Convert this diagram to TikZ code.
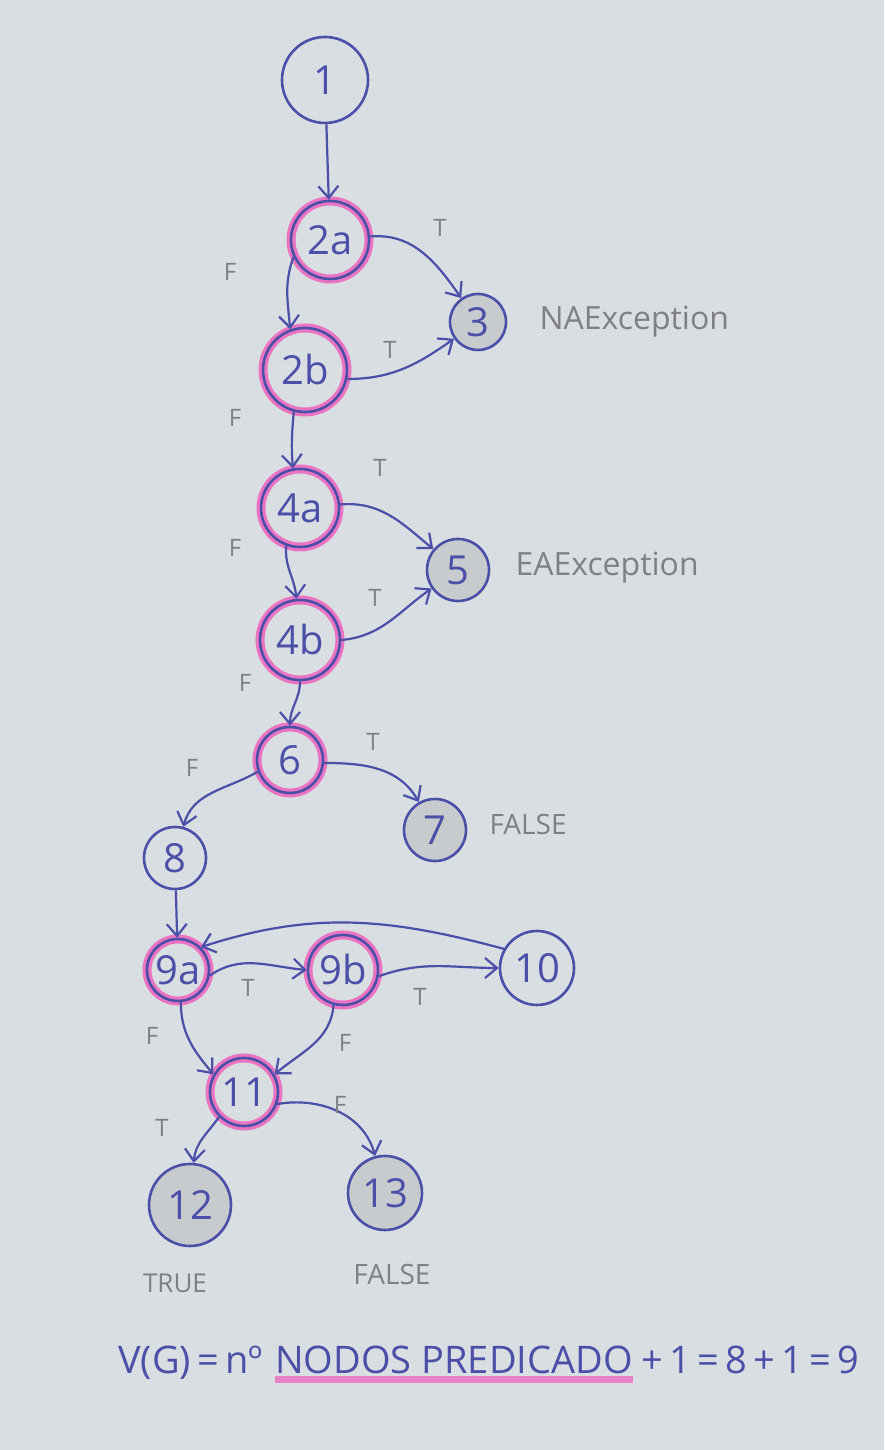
\documentclass[tikz,border=0pt]{standalone}
\usepackage{fontspec}
\setmainfont{Open Sans}
\usetikzlibrary{arrows.meta}
\definecolor{paper}{RGB}{217,222,227}
\definecolor{ink}{RGB}{74,80,168}
\definecolor{pencil}{RGB}{128,128,132}
\definecolor{hl}{RGB}{242,70,180}
\definecolor{shade}{RGB}{200,203,206}
\begin{document}
\begin{tikzpicture}[x=1pt,y=1pt,
  nd/.style={circle,draw=ink,line width=2.6pt,minimum size=#1,inner sep=0pt,text=ink,font=\fontsize{40}{42}\selectfont},
  pred/.style={preaction={draw=hl,line width=9pt,draw opacity=0.7}},
  term/.style={fill=shade},
  conn/.style={draw=ink,line width=2.2pt,-{Straight Barb[length=12pt,width=20pt]}},
  lbl/.style={text=pencil,font=\fontsize{24}{26}\selectfont},
  note/.style={text=pencil,font=\fontsize{32}{34}\selectfont},
  formula/.style={text=ink,inner sep=0pt,font=\fontsize{38}{40}\selectfont}]
\fill[paper] (0,0) rectangle (884,1450);
\useasboundingbox (0,0) rectangle (884,1450);

% nodes
\node[nd=86pt] (n1) at (325,1370) {1};
\node[nd=78pt,pred] (n2a) at (330,1210) {2a};
\node[nd=56pt,term] (n3) at (478,1128) {3};
\node[nd=84pt,pred] (n2b) at (305,1080) {2b};
\node[nd=78pt,pred] (n4a) at (300,942) {4a};
\node[nd=62pt,term] (n5) at (458,880) {5};
\node[nd=80pt,pred] (n4b) at (300,810) {4b};
\node[nd=66pt,pred] (n6) at (290,690) {6};
\node[nd=62pt,term] (n7) at (435,620) {7};
\node[nd=62pt] (n8) at (175,592) {8};
\node[nd=62pt,pred] (n9a) at (178,480) {9a};
\node[nd=70pt,pred] (n9b) at (343,480) {9b};
\node[nd=74pt] (n10) at (537,482) {10};
\node[nd=68pt,pred] (n11) at (244,358) {11};
\node[nd=82pt,term] (n12) at (190,245) {12};
\node[nd=74pt,term] (n13) at (385,257) {13};

% connectors
\draw[conn] (n1) -- (n2a);
\draw[conn] (n2a) to[out=5,in=125] (n3);
\draw[conn] (n2a.205) to[out=250,in=95] (n2b.110);
\draw[conn] (n2b.-12) to[out=0,in=215] (n3);
\draw[conn] (n2b.255) to[out=265,in=95] (n4a.100);
\draw[conn] (n4a.5) to[out=5,in=140] (n5);
\draw[conn] (n4a.250) to[out=265,in=95] (n4b.95);
\draw[conn] (n4b.0) to[out=5,in=215] (n5);
\draw[conn] (n4b.270) to[out=270,in=90] (n6.90);
\draw[conn] (n6.-5) to[out=0,in=120] (n7);
\draw[conn] (n6.200) to[out=210,in=75] (n8);
\draw[conn] (n8) -- (n9a);
\draw[conn] (n10.150) to[out=165,in=18] (n9a.45);
\draw[conn] (n9a.-10) to[out=35,in=175] (n9b.180);
\draw[conn] (n9b.-10) to[out=20,in=180] (n10.180);
\draw[conn] (n9a.275) to[out=270,in=130] (n11.150);
\draw[conn] (n9b.255) to[out=265,in=40] (n11.30);
\draw[conn] (n11.225) to[out=235,in=85] (n12);
\draw[conn] (n11.-20) to[out=10,in=105] (n13);

% T/F labels
\node[lbl] (t1) at (440,1222) {T};
\node[lbl] (f1) at (230,1178) {F};
\node[lbl] (t2) at (390,1100) {T};
\node[lbl] (f2) at (235,1032) {F};
\node[lbl] (t3) at (380,982) {T};
\node[lbl] (f3) at (235,902) {F};
\node[lbl] (t4) at (375,852) {T};
\node[lbl] (f4) at (245,767) {F};
\node[lbl] (t5) at (373,708) {T};
\node[lbl] (f5) at (192,682) {F};
\node[lbl] (t6) at (248,462) {T};
\node[lbl] (t7) at (420,453) {T};
\node[lbl] (f6) at (152,414) {F};
\node[lbl] (f7) at (345,407) {F};
\node[lbl] (t8) at (162,322) {T};
\node[lbl] (f8) at (340,345) {F};

% notes
\node[note,anchor=west] (na) at (536,1128) {NAException};
\node[note,anchor=west] (ea) at (512,882) {EAException};
\node[note,anchor=west,font=\fontsize{28}{30}\selectfont] (fa1) at (486,625) {FALSE};
\node[note,font=\fontsize{26}{28}\selectfont] (tr) at (175,167) {TRUE};
\node[note,font=\fontsize{28}{30}\selectfont] (fa2) at (392,175) {FALSE};

% formula
\node[formula,anchor=base west] (fa) at (118,76) {V(G)\,=\,nº};
\node[formula,anchor=base west] (fb) at ([xshift=12pt]fa.base east) {NODOS PREDICADO};
\node[formula,anchor=base west] (fc) at ([xshift=8pt]fb.base east) {+\,1\,=\,8\,+\,1\,=\,9};
\draw[hl,line width=7pt,draw opacity=0.6] ([yshift=-6pt]fb.base west) -- ([yshift=-6pt]fb.base east);
\end{tikzpicture}
\end{document}
